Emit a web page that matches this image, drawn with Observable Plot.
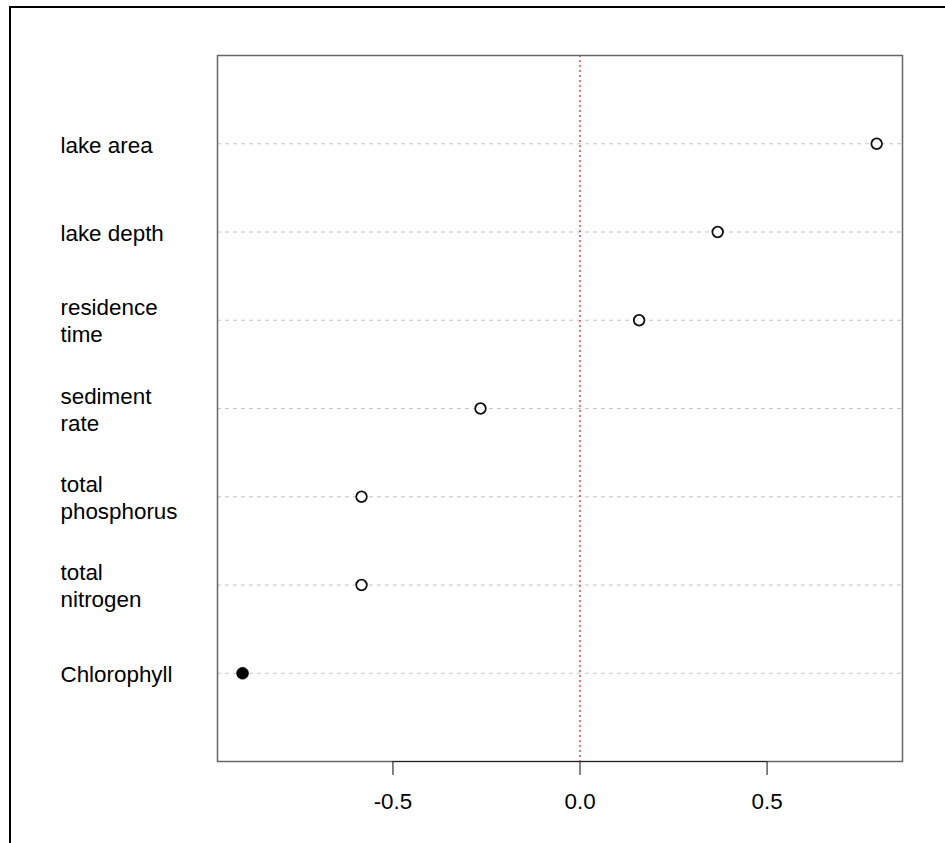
<!DOCTYPE html>
<html>
<head>
<meta charset="utf-8">
<script src="https://cdn.jsdelivr.net/npm/d3@7"></script>
<script src="https://cdn.jsdelivr.net/npm/@observablehq/plot@0.6"></script>
<style>
  html, body { margin: 0; padding: 0; background: #fff; }
  #wrap { position: relative; width: 945px; height: 843px; overflow: hidden; }
  #edge { position: absolute; left: 9px; top: 6px; right: -10px; bottom: -10px;
          border-top: 2px solid #000; border-left: 2px solid #000; pointer-events: none; }
  #chart { position: absolute; left: 0; top: 0; }
</style>
</head>
<body>
<div id="wrap"><div id="chart"></div><div id="edge"></div></div>
<script>
// Predictor labels, top to bottom (two-line labels use "\n")
const labels = [
  "lake area",
  "lake depth",
  "residence\ntime",
  "sediment\nrate",
  "total\nphosphorus",
  "total\nnitrogen",
  "Chlorophyll"
];
// Correlation of each variable with chlorophyll
const values = [0.793, 0.368, 0.158, -0.266, -0.584, -0.584, -0.902];
// The response variable itself is drawn filled
const response = [false, false, false, false, false, false, true];
// X-axis tick values
const xTicks = [-0.5, 0.0, 0.5];

const n = labels.length;
const rows = labels.map((label, i) => ({
  label,
  value: values[i],
  filled: response[i],
  row: n - i
}));

const font = "'Liberation Sans', Arial, Helvetica, sans-serif";

const plot = Plot.plot({
  width: 945,
  height: 843,
  marginLeft: 217,
  marginRight: 43,
  marginTop: 55,
  marginBottom: 82,
  style: { fontFamily: font, fontSize: "22.4px", background: "#fff", color: "#000" },
  x: { domain: [-0.969, 0.862] },
  y: { domain: [0, n + 1], axis: null },
  marks: [
    // dashed guide line for each variable
    Plot.ruleY(rows, { y: "row", stroke: "#c4c4c4", strokeWidth: 1, strokeDasharray: "4,4" }),
    // zero reference
    Plot.ruleX([0], { stroke: "#cc2222", strokeWidth: 1.2, strokeDasharray: "2,3" }),
    Plot.frame({ stroke: "#666", strokeWidth: 1.5 }),
    // axis line spanning the ticks
    Plot.ruleY([0], { x1: xTicks[0], x2: xTicks[xTicks.length - 1], stroke: "#222", strokeWidth: 1.2 }),
    Plot.axisX({
      ticks: xTicks,
      tickSize: 14,
      tickPadding: 18,
      tickFormat: d => d.toFixed(1),
      stroke: "#333",
      strokeWidth: 1.2,
      fontSize: 22.4,
      fill: "#000",
      label: null
    }),
    // row labels in the left margin
    Plot.text(rows.filter(d => !d.label.includes("\n")), {
      y: "row", text: "label", frameAnchor: "left", dx: -157, dy: 2,
      textAnchor: "start", lineAnchor: "middle", fill: "#000", fontSize: 22.4
    }),
    Plot.text(rows.filter(d => d.label.includes("\n")), {
      y: "row", text: "label", frameAnchor: "left", dx: -157, dy: 0,
      textAnchor: "start", lineAnchor: "middle", lineHeight: 1.21, fill: "#000", fontSize: 22.4
    }),
    // correlation points
    Plot.dot(rows.filter(d => !d.filled), {
      x: "value", y: "row", r: 5.3, stroke: "#111", strokeWidth: 1.8, fill: "#fff"
    }),
    Plot.dot(rows.filter(d => d.filled), {
      x: "value", y: "row", r: 6, fill: "#000", stroke: "#000", strokeWidth: 0.5
    })
  ]
});

document.getElementById("chart").appendChild(plot);
</script>
</body>
</html>
